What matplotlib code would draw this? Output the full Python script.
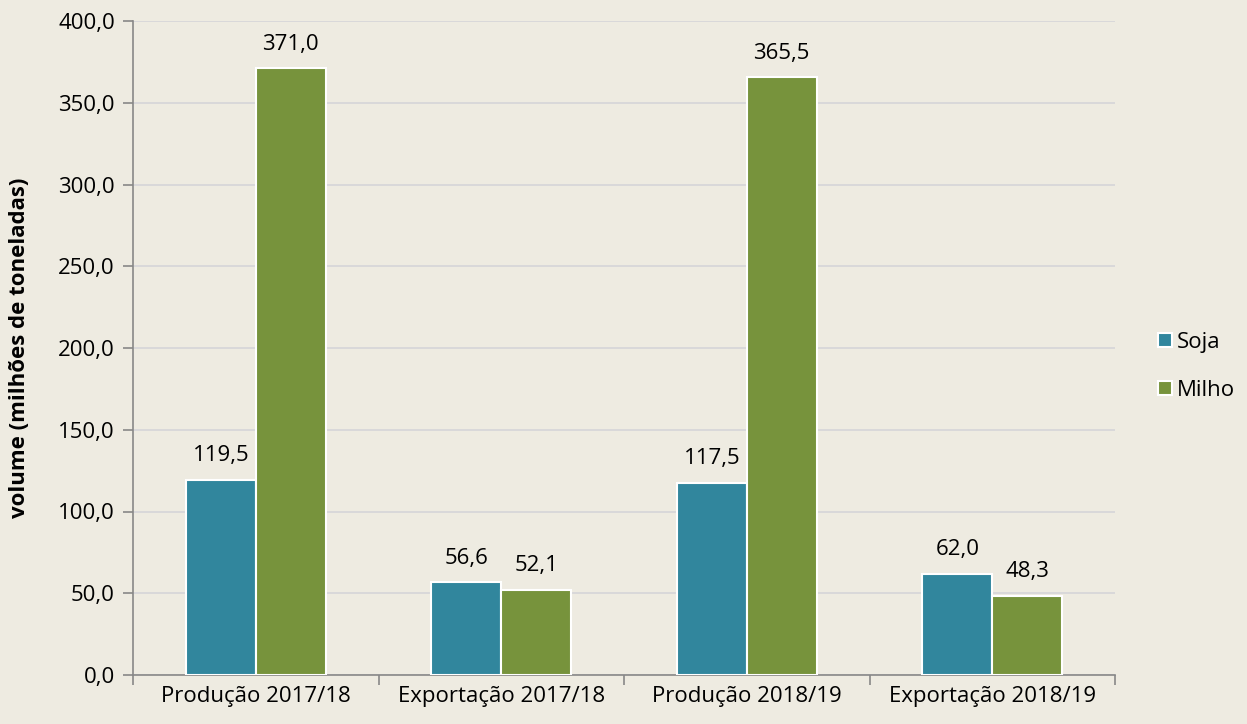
import numpy as np
import matplotlib.pyplot as plt

categorias = ['Produção 2017/18', 'Exportação 2017/18', 'Produção 2018/19', 'Exportação 2018/19']
soja = [119.5, 56.6, 117.5, 62.0]
milho = [371.0, 52.1, 365.5, 48.3]

bg = '#EEEBE1'
cor_soja = '#31869D'
cor_milho = '#77933C'

plt.rcParams['font.family'] = ['Open Sans', 'DejaVu Sans']
fs = 16

fig = plt.figure(figsize=(12.47, 7.24), dpi=100, facecolor=bg)
ax = fig.add_axes([133/1247, 1 - 675/724, (1115-133)/1247, (675-21)/724])
ax.set_facecolor(bg)

x = np.arange(len(categorias))
w = 0.285
b1 = ax.bar(x - w/2, soja, w, color=cor_soja, edgecolor='white', linewidth=1.5, label='Soja', zorder=3)
b2 = ax.bar(x + w/2, milho, w, color=cor_milho, edgecolor='white', linewidth=1.5, label='Milho', zorder=3)

def fmt(v):
    return f'{v:.1f}'.replace('.', ',')

for bars, vals in [(b1, soja), (b2, milho)]:
    for r, v in zip(bars, vals):
        ax.annotate(fmt(v), (r.get_x() + r.get_width()/2, v), xytext=(0, 10),
                    textcoords='offset points', ha='center', va='bottom', fontsize=fs)

ax.set_xlim(-0.5, 3.5)
ax.set_ylim(0, 400)
ax.set_yticks(np.arange(0, 401, 50))
ax.set_yticklabels([fmt(v) for v in np.arange(0, 401, 50)], fontsize=fs)
ax.set_xticks(x)
ax.set_xticklabels(categorias, fontsize=fs)
ax.set_xticks(np.arange(-0.5, 4, 1), minor=True)
ax.tick_params(axis='x', which='major', length=0, pad=8)
ax.tick_params(axis='x', which='minor', length=7, color='#888888', width=1.2)
ax.tick_params(axis='y', length=7, color='#888888', width=1.2, pad=6)

ax.yaxis.grid(True, color='#D5D5D8', linewidth=1.2, zorder=0)
for s in ['top', 'right']:
    ax.spines[s].set_visible(False)
for s in ['left', 'bottom']:
    ax.spines[s].set_color('#888888')
    ax.spines[s].set_linewidth(1.2)

ax.set_ylabel('volume (milhões de toneladas)', fontsize=fs, fontweight='bold', labelpad=20)

leg = ax.legend(loc='center left', bbox_to_anchor=(1.044, 0.472), frameon=False, fontsize=fs,
                handlelength=0.6, handleheight=0.6, handletextpad=0.25, labelspacing=1.2,
                borderaxespad=0, borderpad=0)

fig.savefig('out.png', dpi=100, facecolor=bg)
